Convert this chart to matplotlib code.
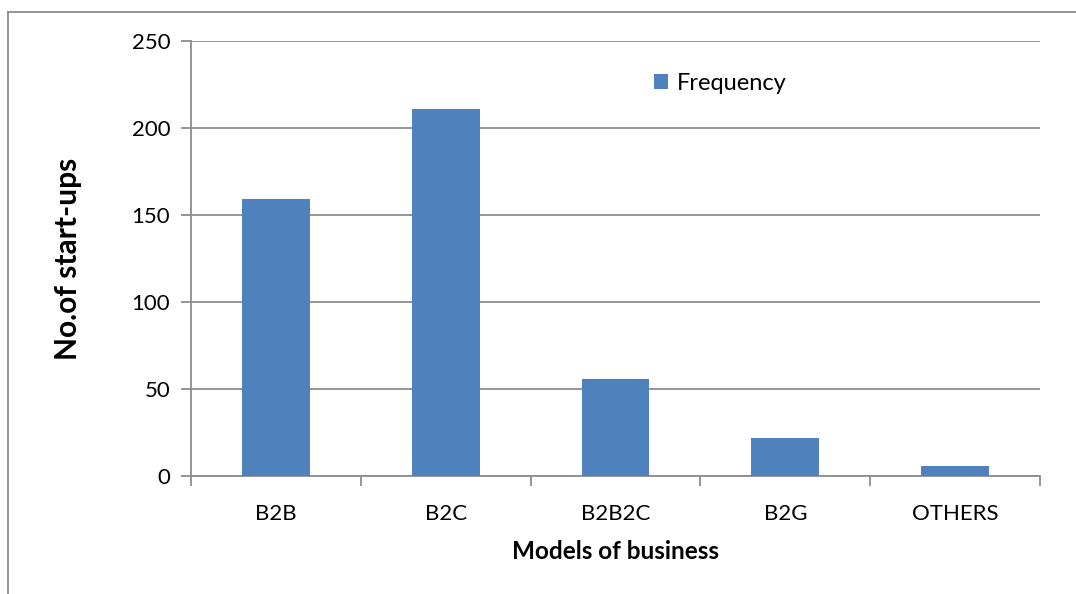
import matplotlib
matplotlib.use("Agg")
import matplotlib.pyplot as plt
from matplotlib.lines import Line2D
import numpy as np

categories = ["B2B", "B2C", "B2B2C", "B2G", "OTHERS"]
frequency = [159, 211, 56, 22, 6]
y_ticks = [0, 50, 100, 150, 200, 250]

plt.rcParams["font.family"] = ["Lato", "DejaVu Sans"]

W, H = 1076, 594
fig = plt.figure(figsize=(W / 100, H / 100), dpi=100)
ax = fig.add_axes([191 / W, 1 - 476 / H, (1040 - 191) / W, (476 - 41) / H])

bar_color = "#4F81BD"
grid_color = "#8C8C8C"

x = np.arange(len(categories))
ax.bar(x, frequency, width=0.4, color=bar_color, label="Frequency", zorder=3)

ax.set_xlim(-0.5, len(categories) - 0.5)
ax.set_ylim(0, 250)
ax.set_yticks(y_ticks)
ax.set_yticklabels([str(v) for v in y_ticks], fontsize=16)
ax.yaxis.grid(True, color=grid_color, linewidth=1.3, zorder=0)

ax.set_xticks(x)
ax.set_xticklabels(categories, fontsize=16)
ax.tick_params(axis="x", which="major", length=0, pad=20)
ax.set_xticks(np.arange(-0.5, len(categories)), minor=True)
ax.tick_params(axis="x", which="minor", length=7, width=1.3, color=grid_color)
ax.tick_params(axis="y", length=7, width=1.3, color=grid_color, pad=8)

for side in ("top", "right"):
    ax.spines[side].set_visible(False)
for side in ("left", "bottom"):
    ax.spines[side].set_color(grid_color)
    ax.spines[side].set_linewidth(1.3)

ax.set_ylabel("No.of start-ups", fontsize=21.5, fontweight="bold", labelpad=36)
ax.set_xlabel("Models of business", fontsize=17.5, fontweight="bold", labelpad=12)

leg = ax.legend(loc="upper left", bbox_to_anchor=(0.52, 0.975), frameon=False,
                fontsize=17, handlelength=0.6, handleheight=0.6, handletextpad=0.4)

# outer chart-area frame (left and top edges)
fig.add_artist(Line2D([8 / W, 8 / W], [0, 1 - 12 / H], transform=fig.transFigure,
                      color="#8C8C8C", linewidth=1.3))
fig.add_artist(Line2D([8 / W, 1], [1 - 12 / H, 1 - 12 / H], transform=fig.transFigure,
                      color="#8C8C8C", linewidth=1.3))

fig.savefig("out.png", dpi=100, facecolor="white")
